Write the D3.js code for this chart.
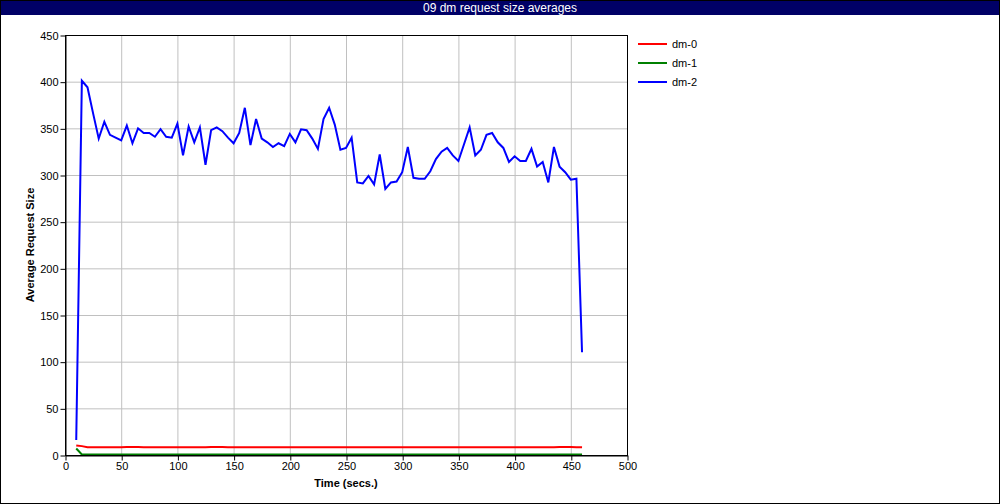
<!DOCTYPE html>
<html><head><meta charset="utf-8">
<script src="https://cdn.jsdelivr.net/npm/d3@7"></script>
<style>
body{margin:0;background:#fff;}
text{font-family:"Liberation Sans",Arial,sans-serif;}
</style></head>
<body><svg id="c" width="1000" height="504"></svg>
<script>
const title = "09 dm request size averages";
const xLabel = "Time (secs.)";
const yLabel = "Average Request Size";
const seriesNames = ["dm-0","dm-1","dm-2"];
const seriesColors = ["#ff0000","#008000","#0000ff"];
const xTicks = [0,50,100,150,200,250,300,350,400,450,500];
const yTicks = [0,50,100,150,200,250,300,350,400,450];
const times = [10,15,20,25,30,35,40,45,50,55,60,65,70,75,80,85,90,95,100,105,110,115,120,125,130,135,140,145,150,155,160,165,170,175,180,185,190,195,200,205,210,215,220,225,230,235,240,245,250,255,260,265,270,275,280,285,290,295,300,305,310,315,320,325,330,335,340,345,350,355,360,365,370,375,380,385,390,395,400,405,410,415,420,425,430,435,440,445,450,455,460];
const dm0 = [10.3,9.5,8.4,8.3,8.3,8.3,8.3,8.3,8.4,8.5,8.6,8.5,8.4,8.3,8.3,8.3,8.3,8.3,8.3,8.3,8.3,8.3,8.3,8.4,8.5,8.6,8.5,8.4,8.3,8.3,8.3,8.3,8.3,8.3,8.3,8.3,8.3,8.3,8.3,8.3,8.3,8.3,8.3,8.3,8.3,8.3,8.3,8.3,8.3,8.3,8.3,8.3,8.3,8.3,8.3,8.3,8.3,8.3,8.3,8.3,8.3,8.3,8.3,8.3,8.3,8.3,8.3,8.3,8.3,8.3,8.3,8.3,8.3,8.3,8.3,8.3,8.3,8.3,8.3,8.3,8.3,8.3,8.3,8.3,8.3,8.4,8.5,8.6,8.5,8.4,8.3];
const dm1 = [7.0,0.6,0.5,0.5,0.5,0.5,0.5,0.5,0.5,0.5,0.5,0.5,0.5,0.5,0.5,0.5,0.5,0.5,0.5,0.5,0.5,0.5,0.5,0.5,0.5,0.5,0.5,0.5,0.5,0.5,0.5,0.5,0.5,0.5,0.5,0.5,0.5,0.5,0.5,0.5,0.5,0.5,0.5,0.5,0.5,0.5,0.5,0.5,0.5,0.5,0.5,0.5,0.5,0.5,0.5,0.5,0.5,0.5,0.5,0.5,0.5,0.5,0.5,0.5,0.5,0.5,0.5,0.5,0.5,0.5,0.5,0.5,0.5,0.5,0.5,0.5,0.5,0.5,0.5,0.5,0.5,0.5,0.5,0.5,0.5,0.5,0.5,0.5,0.5,0.5,0.5];
const dm2 = [16,401,394,366,339,357,343,340,337,353,334,350,345,345,341,349,341,340,355,321,352,335,351,311,348,351,347,340,334,345,372,332,360,339,335,330,334,331,344,335,349,348,339,328,360,372,354,327,329,340,292,291,299,290,322,285,292,293,303,330,297,296,296,304,317,325,329,321,315,333,351,321,327,343,345,335,329,314,320,315,315,328,309,314,292,330,309,303,295,296,110];

const svg = d3.select("#c");
const W = 1000, H = 504;
const x = d3.scaleLinear().domain([0,500]).range([65,627]);
const y = d3.scaleLinear().domain([0,450]).range([455,35]);

svg.append("rect").attr("x",0).attr("y",0).attr("width",W).attr("height",H).attr("fill","#fff");
// title bar
svg.append("rect").attr("x",0).attr("y",0).attr("width",W).attr("height",15).attr("fill","#000066");
svg.append("text").attr("x",500).attr("y",12).attr("text-anchor","middle").attr("fill","#fff")
  .attr("font-size",12).text(title);

// grid
const g = svg.append("g");
g.selectAll(".vg").data(xTicks.slice(1,-1)).enter().append("line")
  .attr("x1",d=>x(d)+0.5).attr("x2",d=>x(d)+0.5).attr("y1",y(450)).attr("y2",y(0))
  .attr("stroke","#c0c0c0").attr("stroke-width",1);
g.selectAll(".hg").data(yTicks.slice(1,-1)).enter().append("line")
  .attr("x1",x(0)).attr("x2",x(500)).attr("y1",d=>y(d)+0.5).attr("y2",d=>y(d)+0.5)
  .attr("stroke","#c0c0c0").attr("stroke-width",1);

// lines
const line = d3.line().x((d,i)=>x(times[i])).y(d=>y(d));
[dm0,dm1,dm2].forEach((s,k)=>{
  svg.append("path").datum(s).attr("d",line).attr("fill","none")
    .attr("stroke",seriesColors[k]).attr("stroke-width",2).attr("stroke-linejoin","miter");
});

// frame
svg.append("rect").attr("x",x(0)+0.5).attr("y",y(450)+0.5).attr("width",x(500)-x(0)).attr("height",y(0)-y(450))
  .attr("fill","none").attr("stroke","#000").attr("stroke-width",1);

// axes
const xa = svg.append("g").attr("transform",`translate(0.5,${y(0)+0.5})`)
  .call(d3.axisBottom(x).tickValues(xTicks).tickSize(5).tickSizeOuter(0));
const ya = svg.append("g").attr("transform",`translate(${x(0)+0.5},0.5)`)
  .call(d3.axisLeft(y).tickValues(yTicks).tickSize(5).tickSizeOuter(0));
[xa,ya].forEach(a=>{
  a.select(".domain").attr("stroke","#000");
  a.selectAll(".tick line").attr("stroke","#000");
  a.selectAll("text").attr("font-family","Liberation Sans, Arial, sans-serif").attr("font-size",11).attr("fill","#000");
});
ya.selectAll("text").attr("x",-7);
xa.selectAll("text").attr("y",7);

svg.append("text").attr("x",346).attr("y",487).attr("text-anchor","middle")
  .attr("font-size",11).attr("font-weight","bold").text(xLabel);
svg.append("text").attr("transform",`translate(34,245) rotate(-90)`).attr("text-anchor","middle")
  .attr("font-size",11).attr("font-weight","bold").text(yLabel);

// legend
const lg = svg.append("g");
seriesNames.forEach((n,i)=>{
  const yy = 44 + i*19;
  lg.append("line").attr("x1",638).attr("x2",667).attr("y1",yy).attr("y2",yy)
    .attr("stroke",seriesColors[i]).attr("stroke-width",2);
  lg.append("text").attr("x",672).attr("y",yy+4).attr("font-size",11).text(n);
});

// outer border
svg.append("rect").attr("x",0.5).attr("y",0.5).attr("width",W-1).attr("height",H-1)
  .attr("fill","none").attr("stroke","#000").attr("stroke-width",1);
</script></body></html>
